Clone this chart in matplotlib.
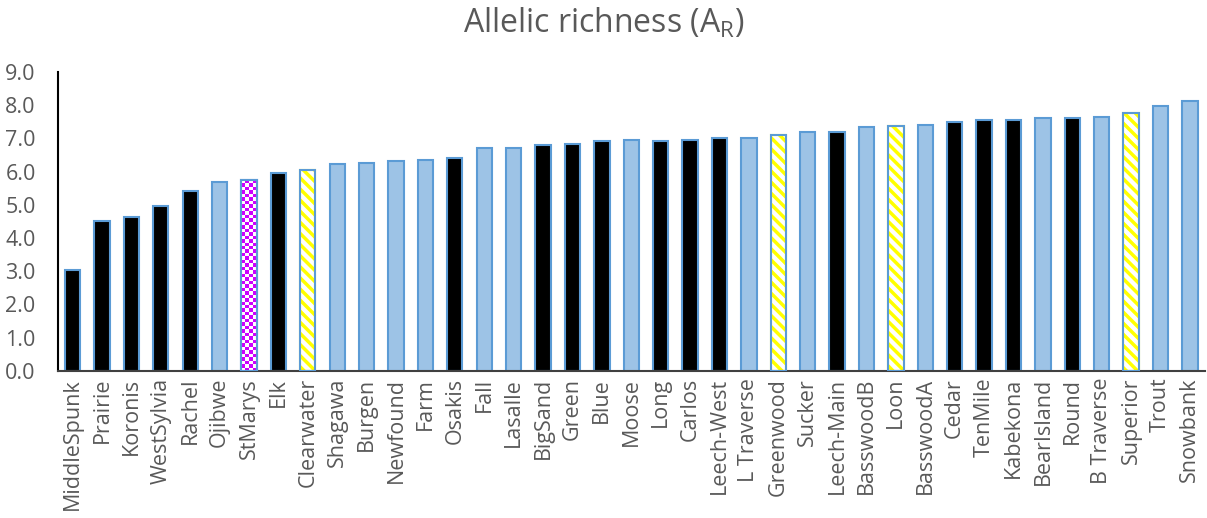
import matplotlib.pyplot as plt
import numpy as np

lakes = ['MiddleSpunk', 'Prairie', 'Koronis', 'WestSylvia', 'Rachel', 'Ojibwe', 'StMarys', 'Elk',
         'Clearwater', 'Shagawa', 'Burgen', 'Newfound', 'Farm', 'Osakis', 'Fall', 'Lasalle',
         'BigSand', 'Green', 'Blue', 'Moose', 'Long', 'Carlos', 'Leech-West', 'L Traverse',
         'Greenwood', 'Sucker', 'Leech-Main', 'BasswoodB', 'Loon', 'BasswoodA', 'Cedar',
         'TenMile', 'Kabekona', 'BearIsland', 'Round', 'B Traverse', 'Superior', 'Trout', 'Snowbank']
richness = [3.04, 4.52, 4.64, 4.97, 5.42, 5.70, 5.75, 5.96, 6.06, 6.24, 6.27, 6.32, 6.36, 6.40,
            6.70, 6.72, 6.79, 6.82, 6.91, 6.94, 6.93, 6.96, 7.00, 7.02, 7.11, 7.18, 7.20, 7.34,
            7.36, 7.41, 7.50, 7.56, 7.56, 7.61, 7.60, 7.65, 7.77, 7.98, 8.12]
# b = blue, k = black, y = yellow stripes, p = purple checker
group = ['k', 'k', 'k', 'k', 'k', 'b', 'p', 'k', 'y', 'b', 'b', 'b', 'b', 'k', 'b', 'b',
         'k', 'k', 'k', 'b', 'k', 'k', 'k', 'b', 'y', 'b', 'k', 'b', 'y', 'b', 'k',
         'k', 'k', 'b', 'k', 'b', 'y', 'b', 'b']

plt.rcParams['font.family'] = ['Open Sans', 'DejaVu Sans']
plt.rcParams['hatch.linewidth'] = 2.5

fig = plt.figure(figsize=(12.07, 5.18), dpi=100)
ax = fig.add_axes([0.048, 0.284, 0.950, 0.577])

x = np.arange(len(lakes))
edge = '#5B9BD5'
fills = {'b': '#9DC3E6', 'k': 'black', 'y': 'white', 'p': 'white'}
bars = ax.bar(x, richness, width=0.52, color=[fills[g] for g in group],
              edgecolor=edge, linewidth=1.5, zorder=2)

for b, g in zip(bars, group):
    if g == 'y':
        b.set_hatch('\\\\\\')
        b.set_edgecolor('#FFFF00')
        ax.bar(b.get_x() + b.get_width() / 2, b.get_height(), width=b.get_width(),
               fill=False, edgecolor=edge, linewidth=1.5, zorder=3)
    elif g == 'p':
        x0, w, h = b.get_x(), b.get_width(), b.get_height()
        nrows = int(round(h * 33.2 / 3.5))
        pat = np.indices((nrows, 4)).sum(axis=0) % 2
        im = ax.imshow(pat, cmap=plt.matplotlib.colors.ListedColormap(['white', '#CC00FF']),
                       extent=[x0, x0 + w, 0, h], aspect='auto', interpolation='nearest',
                       zorder=2.5, origin='lower')
        im.set_clip_path(b)
        ax.bar(x0 + w / 2, h, width=w, fill=False, edgecolor=edge, linewidth=1.5, zorder=3)

ax.set_xlim(-0.5, len(lakes) - 0.5)
ax.set_ylim(0, 9)
ax.set_yticks(np.arange(0, 9.1, 1.0))
ax.set_yticklabels([f'{v:.1f}' for v in np.arange(0, 9.1, 1.0)])
ax.set_xticks(x)
ax.set_xticklabels(lakes, rotation=90)
ax.tick_params(length=0, labelsize=15.5, colors='#595959', pad=5)
ax.tick_params(axis='y', pad=16)
for s in ['top', 'right']:
    ax.spines[s].set_visible(False)
ax.spines['left'].set_color('black')
ax.spines['left'].set_linewidth(1.5)
ax.spines['bottom'].set_color('#404040')
ax.spines['bottom'].set_linewidth(1.5)

fig.text(0.5, 0.955, 'Allelic richness (A$_\\mathregular{R}$)', ha='center', va='center',
         fontsize=23, color='#595959')

fig.savefig('out.png', dpi=100)
